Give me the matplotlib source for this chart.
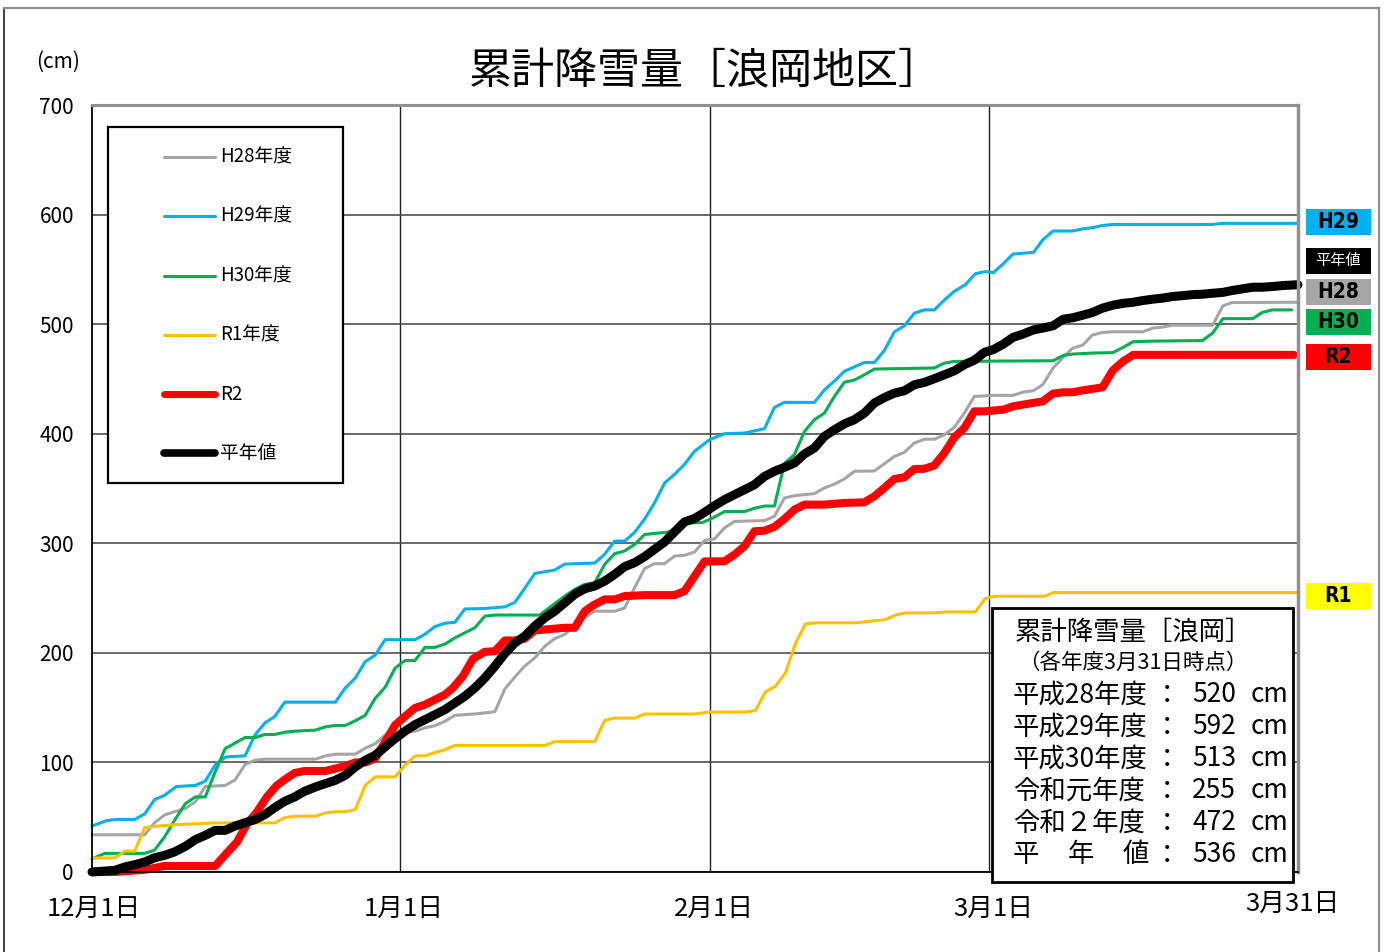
import matplotlib
matplotlib.use("Agg")
import numpy as np
import matplotlib.pyplot as plt
from matplotlib.patches import Rectangle
from matplotlib.lines import Line2D
from matplotlib.transforms import ScaledTranslation

plt.rcParams['font.family'] = ['Noto Sans CJK JP', 'DejaVu Sans']

# ---------------- data (day index from Dec 1, cumulative snowfall cm) ----------------
x_tick_days = [0, 31, 62, 90, 120]
x_tick_labels = ['12月1日', '1月1日', '2月1日', '3月1日', '3月31日']
month_lines = [31, 62, 90]
y_ticks = [0, 100, 200, 300, 400, 500, 600, 700]

h28 = [(0, 34), (5.3, 34), (6.3, 45), (7.3, 52), (8.3, 55), (9.4, 58), (10.4, 64), (11.4, 78), (13.4, 79),
       (14.4, 84), (15.4, 98), (16.4, 102), (17.4, 103), (22.5, 103), (23.5, 106), (24.5, 107.5), (26.5, 107.5),
       (27.5, 113), (28.5, 117), (29.5, 125), (31, 128), (32.5, 128.5), (33.5, 131.6), (34.5, 133.5),
       (35.5, 137.5), (36.5, 143), (38.5, 144.2), (40.5, 146.3), (41.5, 167), (42.5, 178), (43.5, 188),
       (44.5, 195.4), (45.5, 206), (46.5, 213), (47.5, 216.8), (48.5, 224.4), (49.5, 232.6), (50.5, 238),
       (52.5, 238), (53.5, 241), (54.5, 259.5), (55.5, 277), (56.5, 281.4), (57.5, 281.4), (58.5, 288.4),
       (59.5, 289), (60.5, 292), (61.5, 302.5), (62.5, 304), (63.5, 314), (64.5, 320), (67.5, 320.7),
       (68.5, 324.6), (69.5, 341.3), (70.5, 343.5), (72.5, 345.3), (73.5, 350.5), (74.5, 354), (75.5, 358.7),
       (76.5, 365.7), (78.5, 366), (79.5, 372.6), (80.5, 379.3), (81.5, 383), (82.5, 391.5), (83.5, 395),
       (84.5, 395), (85.5, 399), (86.5, 405.8), (87.5, 418.8), (88.5, 434), (90.4, 435), (92.3, 435),
       (93.3, 438), (94.3, 439.3), (95.2, 444.8), (96.2, 460), (97.2, 470), (98.1, 478), (99.1, 481),
       (100, 490), (101, 492.4), (102, 493), (104.9, 493), (105.9, 496.4), (106.8, 497.3), (107.8, 499),
       (111.7, 499), (112.7, 516.7), (113.6, 519.7), (120, 520)]

h29 = [(0, 42), (1.5, 47), (2.5, 48), (4.3, 48), (5.3, 53), (6.3, 66), (7.3, 70), (8.5, 78), (10.4, 79),
       (11.4, 83), (12.5, 99), (13.5, 105), (15.4, 106), (16.4, 125), (17.4, 136), (18.4, 142), (19.4, 155),
       (24.5, 155), (25.5, 168), (26.5, 177), (27.5, 192), (28.5, 198), (29.5, 212), (32.5, 212), (33.5, 217),
       (34.5, 224), (35.5, 227), (36.5, 228), (37.5, 240), (39.5, 240.5), (41.5, 242), (42.5, 246),
       (43.5, 259), (44.5, 272.5), (46.5, 275.6), (47.5, 281), (50.5, 282), (51.5, 290), (52.5, 302),
       (53.5, 302), (54.5, 310), (55.5, 322), (56.5, 337), (57.5, 355), (58.5, 363), (59.5, 372),
       (60.5, 384), (62, 394.5), (63.5, 400), (65.5, 400.6), (67.5, 404.6), (68.5, 424), (69.5, 428.6),
       (72.5, 428.6), (73.5, 440), (74.5, 448), (75.5, 457), (77.5, 465), (78.5, 465), (79.5, 476),
       (80.5, 493), (81.5, 498.5), (82.5, 510), (83.5, 513), (84.5, 513), (85.5, 522), (86.5, 530),
       (87.6, 536), (88.6, 546), (89.6, 548), (90.4, 547), (91.4, 555.5), (92.3, 564), (94.3, 565.5),
       (95.2, 577), (96.2, 585), (98.1, 585), (99.1, 587), (100, 588), (101, 590), (102, 591), (111.7, 591),
       (112.7, 592), (120, 592)]

h30 = [(0, 12), (1.3, 17), (5.3, 17), (6.3, 20), (7.3, 32), (8.3, 47), (9.4, 62.4), (10.4, 68.5),
       (11.4, 68.5), (12.4, 91.4), (13.4, 112.6), (15.4, 122.7), (16.4, 122.7), (17.4, 125.5), (18.4, 125.5),
       (19.4, 127.6), (20.4, 128.5), (22.5, 129.5), (23.5, 132.5), (24.5, 133.7), (25.5, 133.7), (26.5, 138),
       (27.5, 143), (28.5, 158.5), (29.5, 168.5), (30.5, 186), (31.5, 193), (32.5, 193), (33.5, 205),
       (34.5, 205), (35.5, 208), (36.5, 213.7), (37.5, 218.3), (38.5, 222.9), (39.5, 233.5), (40.5, 234.5),
       (45, 234.5), (46.5, 245), (47.5, 251.8), (48.5, 258), (49.5, 262.5), (50.5, 264), (51.5, 280.8),
       (52.5, 290.5), (53.5, 293), (54.5, 299), (55.5, 308), (56.5, 309), (57.5, 309.8), (58.5, 311.3),
       (59.5, 318.3), (61.3, 319), (62.3, 323), (63.5, 329), (65.5, 329), (66.5, 332), (67.5, 334),
       (68.5, 334), (69.5, 373), (70.5, 381), (71.5, 402), (72.5, 412.8), (73.5, 418.8), (74.5, 434),
       (75.5, 447), (76.5, 449), (77.5, 453.8), (78.5, 459), (84.5, 460), (85.5, 464.4), (86.5, 466),
       (96.2, 466.6), (97.2, 471.5), (98.1, 472.7), (100, 473.6), (102, 474), (103, 478.8), (104, 484),
       (105.9, 484.5), (110.7, 485), (111.7, 491.8), (112.7, 505), (115.6, 505), (116.5, 510.6),
       (117.5, 513), (119.4, 513)]

r1 = [(0, 12.8), (2.3, 12.8), (3.3, 19), (4.3, 19), (5.3, 40.5), (6.3, 41.7), (8.3, 43.2), (10.4, 44),
      (12.4, 44.8), (18.4, 44.8), (19.4, 49.6), (20.4, 50.9), (22.5, 50.9), (23.5, 54), (24.5, 55),
      (25.5, 55), (26.5, 57), (27.5, 79), (28.5, 86.8), (30.5, 86.8), (31.5, 97.4), (32.5, 106), (33.5, 106),
      (34.5, 109), (35.5, 111.6), (36.5, 115.5), (45.5, 115.5), (46.5, 119), (50.5, 119), (51.5, 138.4),
      (52.5, 140.5), (54.5, 140.5), (55.5, 144.2), (60.5, 144.2), (62, 146), (65.6, 146), (66.6, 147.4),
      (67.6, 164.4), (68.6, 169.6), (69.6, 181.7), (70.6, 208.5), (71.6, 226.5), (72.6, 227.4),
      (76.6, 227.4), (79.6, 230.4), (80.6, 234.4), (81.6, 236.5), (84.6, 236.5), (85.6, 237.4),
      (88.6, 237.4), (89.6, 249.6), (90.6, 251.7), (95.4, 251.7), (96.2, 255), (120, 255)]

r2 = [(0, 0), (2.3, 0), (5.3, 2), (7.3, 5.5), (12.4, 5.5), (13.5, 16.7), (14.6, 27.4), (15.6, 44),
      (16.6, 54.8), (17.6, 68.5), (18.6, 79), (19.4, 84.3), (20.4, 90.4), (21.4, 92.2), (23.5, 92.2),
      (24.5, 94.4), (25.5, 96.8), (26.5, 100), (27.5, 100), (28.5, 103.5), (29.5, 118.7), (30.5, 134),
      (31.5, 142), (32.5, 149.7), (33.5, 152.7), (34.5, 157.3), (35.5, 161.9), (36.3, 168), (37.3, 178.7),
      (38.3, 194.5), (39.5, 201), (40.5, 201.5), (41.5, 211.3), (42.5, 211.3), (43.5, 213), (44.5, 220.4),
      (45.5, 221.3), (47.5, 222.9), (48.5, 222.9), (49.5, 238), (50.5, 244.2), (51.5, 248.8), (52.5, 248.8),
      (53.5, 251.8), (55.5, 252.7), (58.5, 252.7), (59.5, 256.4), (60.5, 270), (61.5, 283.4), (63.5, 283.6),
      (64.5, 289.7), (65.5, 297.3), (66.5, 311), (67.5, 311.5), (68.5, 315), (69.5, 322.2), (70.5, 330.7),
      (71.5, 335.3), (73.5, 335.3), (75.5, 336.8), (77.5, 337.4), (78.5, 342.9), (79.5, 350.5),
      (80.5, 358.7), (81.5, 360.2), (82.5, 367.8), (83.5, 368), (84.5, 371), (85.5, 382.4), (86.5, 396.7),
      (87.5, 405.2), (88.5, 420.4), (89.5, 420.4), (91.4, 422), (92.3, 425), (95.2, 429.6), (96.2, 436.6),
      (97.2, 437.8), (98.1, 437.8), (99.1, 439.6), (101, 442.3), (102, 457.8), (103, 466), (104, 472),
      (119.6, 472)]

normal = [(0, 0), (2.3, 1.5), (3.3, 4.6), (4.3, 6.7), (5.3, 9.1), (6.3, 13), (7.3, 15.2), (8.3, 18.3),
          (9.4, 23.4), (10.4, 29.5), (11.4, 33.5), (12.4, 38), (13.4, 38), (14.4, 42), (15.4, 45),
          (16.4, 47.8), (17.4, 52.4), (18.4, 58.8), (19.4, 64.5), (20.4, 68.5), (21.4, 73.7), (22.5, 77.6),
          (23.5, 80.7), (24.5, 83.7), (25.5, 88.3), (26.5, 95.9), (27.5, 102), (28.5, 106.5), (29.5, 114.2),
          (30.5, 121.8), (31.5, 128.5), (32.5, 134.5), (33.5, 139), (34.5, 143.6), (35.5, 148.2),
          (36.5, 154.3), (37.5, 160.4), (38.5, 168), (39.5, 177.1), (40.5, 187.8), (41.5, 199.4),
          (42.5, 209.1), (43.5, 215.2), (44.5, 224.4), (45.5, 232), (46.5, 238.1), (47.5, 245.7),
          (48.5, 253.4), (49.5, 258.5), (50.5, 261), (51.5, 265.5), (52.5, 271.6), (53.5, 278.7),
          (54.5, 282.3), (55.5, 287.8), (56.5, 294.5), (57.5, 301.2), (58.5, 310.4), (59.5, 319.5),
          (60.5, 322.6), (61.5, 328.2), (62.5, 334.3), (63.5, 339.8), (64.5, 344.4), (65.5, 348.9),
          (66.5, 353.5), (67.5, 361), (68.5, 365.7), (69.5, 369.3), (70.5, 373.3), (71.5, 381.5), (72.5, 387),
          (73.5, 397.6), (74.5, 403.6), (75.5, 409), (76.5, 412.8), (77.5, 418.8), (78.5, 428), (79.5, 433),
          (80.5, 437), (81.5, 439.2), (82.5, 444.7), (83.5, 446.8), (84.5, 450.2), (85.5, 453.8),
          (86.5, 457.4), (87.5, 463), (88.5, 467), (89.5, 474.2), (90.4, 476.8), (91.4, 482), (92.3, 487.9),
          (93.3, 491), (94.3, 494.8), (95.2, 496.4), (96.2, 498.5), (97.2, 504.6), (98.1, 505.8),
          (99.1, 508.2), (100, 510.6), (101, 514.6), (102, 517.3), (103, 519), (104, 520), (104.9, 521.5),
          (105.9, 522.8), (106.8, 523.7), (107.8, 525.2), (108.8, 526), (109.8, 527), (110.7, 527.3),
          (111.7, 528.2), (112.7, 529), (113.6, 530.7), (114.6, 532.2), (115.6, 533.7), (116.5, 533.7),
          (117.5, 534.3), (118.5, 535.2), (120, 536)]

legend_labels = ['H28年度', 'H29年度', 'H30年度', 'R1年度', 'R2', '平年値']
end_labels = ['H29', '平年値', 'H28', 'H30', 'R2', 'R1']
summary_title = '累計降雪量［浪岡］'
summary_sub = '（各年度3月31日時点）'
summary_names = ['平成28年度', '平成29年度', '平成30年度', '令和元年度', '令和２年度', '平年値']
summary_values = [520, 592, 513, 255, 472, 536]

# ---------------- styling ----------------
C_H28, C_H29, C_H30, C_R1, C_R2, C_N = '#A6A6A6', '#00B0F0', '#00B050', '#FFC000', '#FF0000', '#000000'

W, H = 1386, 952
def fx(x):
    return x / W
def fy(y):
    return 1 - y / H

fig = plt.figure(figsize=(W / 100, H / 100), dpi=100)
ax = fig.add_axes([fx(92), fy(872), fx(1298) - fx(92), fy(105) - fy(872)])

# piecewise-linear day axis (month gridlines of the original are not evenly spaced per day)
_anchor_day = [0.0, 31.0, 62.0, 90.0, 120.0]
_anchor_pos = [0.0, 308.0, 617.5, 897.3, 1206.0]
def _fwd(d):
    return np.interp(d, _anchor_day, _anchor_pos, left=-1e9, right=1e9)
def _inv(p):
    return np.interp(p, _anchor_pos, _anchor_day)
ax.set_xscale('function', functions=(_fwd, _inv))

series = [(h28, C_H28, 2.2), (h29, C_H29, 2.2), (h30, C_H30, 2.2), (r1, C_R1, 2.2), (r2, C_R2, 5.8), (normal, C_N, 6.5)]
for data, col, lw in series:
    d, v = zip(*data)
    ax.plot(d, v, color=col, lw=lw, solid_joinstyle='round', solid_capstyle='round', clip_on=False)

ax.set_xlim(0, 120)
ax.set_ylim(0, 700)
ax.set_yticks(y_ticks)
ax.set_yticklabels([str(t) for t in y_ticks], fontsize=15)
ax.set_xticks(x_tick_days)
ax.set_xticklabels(x_tick_labels, fontsize=18.5)
ax.xaxis.set_minor_locator(matplotlib.ticker.NullLocator())
ax.tick_params(axis='both', which='both', length=0)
ax.tick_params(axis='y', pad=13)
ax.tick_params(axis='x', pad=17)
# small per-label nudges (pixels) to match the original label placement
label_shift = [(2, 0), (4, 0), (4, 0), (4, 0), (-6, 5)]
for lab, (dx, dy) in zip(ax.get_xticklabels(), label_shift):
    lab.set_transform(lab.get_transform() + ScaledTranslation(dx / 100, dy / 100, fig.dpi_scale_trans))
ax.yaxis.grid(True, color='#404040', lw=1.1)
for m in month_lines:
    ax.axvline(m, color='#202020', lw=1.0, zorder=0.5)
ax.set_axisbelow(True)
ax.spines['left'].set_color('black')
ax.spines['bottom'].set_color('black')
ax.spines['left'].set_linewidth(1.3)
ax.spines['bottom'].set_linewidth(1.3)
ax.spines['top'].set_color('#909090')
ax.spines['right'].set_color('#909090')
ax.spines['top'].set_linewidth(2.2)
ax.spines['right'].set_linewidth(2.5)

# outer frame
fig.add_artist(Line2D([fx(4), fx(4)], [fy(8), 0], color='#303030', lw=1.3))
fig.add_artist(Line2D([fx(4), fx(1379)], [fy(8), fy(8)], color='#909090', lw=1.6))
fig.add_artist(Line2D([fx(1379), fx(1379)], [fy(8), 0], color='#909090', lw=1.6))

# title / unit
fig.text(fx(705), fy(72), '累計降雪量［浪岡地区］', ha='center', va='center', fontsize=31)
fig.text(fx(58), fy(62), '(cm)', ha='center', va='center', fontsize=15)

# legend box
fig.add_artist(Rectangle((fx(108), fy(483)), fx(343) - fx(108), fy(127) - fy(483),
                         transform=fig.transFigure, facecolor='white', edgecolor='black', lw=1.6, zorder=5))
leg_y = [157, 216, 276, 335, 394, 453]
leg_style = [(C_H28, 2.2), (C_H29, 2.2), (C_H30, 2.2), (C_R1, 2.2), (C_R2, 5.0), (C_N, 5.5)]
for yy, lab, (col, lw) in zip(leg_y, legend_labels, leg_style):
    fig.add_artist(Line2D([fx(164), fx(215)], [fy(yy), fy(yy)], color=col, lw=lw,
                          solid_capstyle='round', zorder=6))
    fig.text(fx(220), fy(yy), lab, ha='left', va='center', fontsize=13.5, zorder=7)

# end-of-season labels
end_y = [222, 260.5, 292, 322, 357, 596]
end_bg = [C_H29, '#000000', C_H28, C_H30, C_R2, '#FFFF00']
for lab, yy, bg in zip(end_labels, end_y, end_bg):
    fig.add_artist(Rectangle((fx(1306), fy(yy + 13)), fx(1371) - fx(1306), fy(yy - 13) - fy(yy + 13),
                             transform=fig.transFigure, facecolor=bg, edgecolor='none', zorder=5))
    if lab == '平年値':
        fig.text(fx(1338.5), fy(yy), lab, ha='center', va='center', fontsize=11, color='white', zorder=6)
    else:
        fig.text(fx(1338.5), fy(yy), lab, ha='center', va='center', fontsize=15, fontweight='bold',
                 family='DejaVu Sans', fontstretch='condensed', color='black', zorder=6)

# summary box
fig.add_artist(Rectangle((fx(992), fy(882)), fx(1293) - fx(992), fy(608) - fy(882),
                         transform=fig.transFigure, facecolor='white', edgecolor='black', lw=2.0, zorder=5))
fig.text(fx(1015), fy(632), summary_title, ha='left', va='center', fontsize=19, zorder=6)
fig.text(fx(1018), fy(663), summary_sub, ha='left', va='center', fontsize=15.5, zorder=6)
row_y = [695, 727, 759, 791, 823, 855]
for name, val, yy in zip(summary_names, summary_values, row_y):
    if name == '平年値':
        for k, ch in enumerate(name):
            fig.text(fx(1013 + 55 * k), fy(yy), ch, ha='left', va='center', fontsize=19, zorder=6)
    else:
        fig.text(fx(1013), fy(yy), name, ha='left', va='center', fontsize=19, zorder=6)
    fig.text(fx(1167), fy(yy), '：', ha='center', va='center', fontsize=19, zorder=6)
    fig.text(fx(1236), fy(yy), str(val), ha='right', va='center', fontsize=19, zorder=6)
    fig.text(fx(1251), fy(yy), 'cm', ha='left', va='center', fontsize=19, zorder=6)

fig.savefig('out.png', dpi=100, facecolor='white')
